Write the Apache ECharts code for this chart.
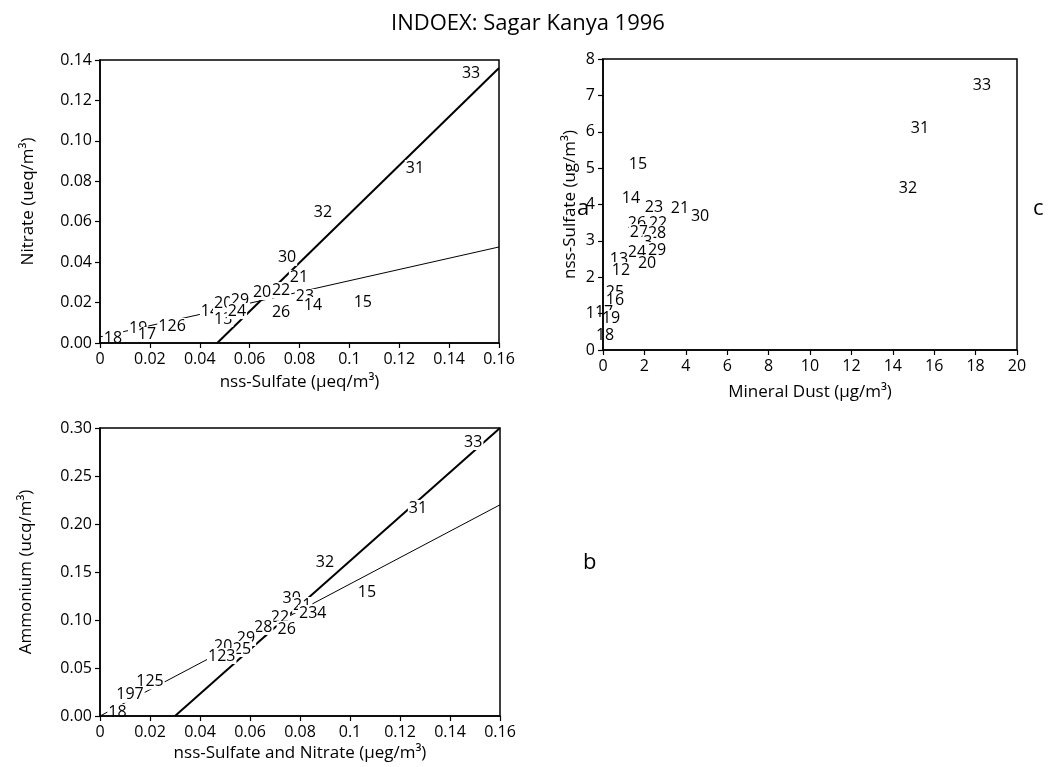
<!DOCTYPE html>
<html>
<head>
<meta charset="utf-8">
<script src="https://cdn.jsdelivr.net/npm/echarts@6/dist/echarts.min.js"></script>
<style>
  html, body { margin: 0; background: #fff; }
  #chart { width: 1056px; height: 767px; }
</style>
</head>
<body>
<div id="chart"></div>
<script>
// panel a: nitrate vs nss-sulfate (sample numbers as markers)
const aNames = ['33', '31', '32', '30', '21', '20', '22', '23', '14', '15', '26',
  '18', '19', '17', '126', '14', '20', '29', '13', '24'];
const aX = [0.1488, 0.1263, 0.0894, 0.0750, 0.0798, 0.0650, 0.0726, 0.0822, 0.0854, 0.1054, 0.0726,
  0.0052, 0.0153, 0.0188, 0.0289, 0.0441, 0.0494, 0.0561, 0.0494, 0.0549];
const aY = [0.1332, 0.0866, 0.0644, 0.0421, 0.0322, 0.0252, 0.0262, 0.0228, 0.0188, 0.0203, 0.0153,
  0.0025, 0.0074, 0.0040, 0.0084, 0.0158, 0.0198, 0.0213, 0.0119, 0.0158];
const aThick = [[0.047, 0], [0.16, 0.136]];
const aThin = [[0, 0.003], [0.16, 0.0475]];

// panel b: ammonium vs nss-sulfate + nitrate
const bNames = ['33', '31', '32', '15', '30', '21', '234', '22', '28', '26', '29', '20', '25', '123',
  '125', '197', '18'];
const bX = [0.1493, 0.1272, 0.0900, 0.1068, 0.0767, 0.0809, 0.0851, 0.0720, 0.0653, 0.0747, 0.0584, 0.0493, 0.0568, 0.0487,
  0.0200, 0.0120, 0.0070];
const bY = [0.2854, 0.2167, 0.1604, 0.1292, 0.1229, 0.1156, 0.1073, 0.1030, 0.0927, 0.0906, 0.0813, 0.0729, 0.0698, 0.0625,
  0.0360, 0.0220, 0.0040];
const bThick = [[0.030, 0], [0.16, 0.30]];
const bThin = [[0, 0], [0.16, 0.22]];

// panel c: nss-sulfate vs mineral dust
const cNames = ['33', '31', '32', '15', '14', '23', '21', '30', '26', '22', '27', '28', '3',
  '24', '29', '20', '13', '12', '25', '16', '17', '19', '18'];
const cX = [18.31, 15.31, 14.73, 1.69, 1.35, 2.46, 3.72, 4.69, 1.64, 2.66, 1.74, 2.61, 2.17,
  1.64, 2.61, 2.13, 0.77, 0.87, 0.58, 0.58, 0.05, 0.39, 0.10];
const cY = [7.26, 6.10, 4.43, 5.09, 4.18, 3.93, 3.90, 3.68, 3.49, 3.49, 3.24, 3.21, 2.97,
  2.69, 2.75, 2.39, 2.50, 2.20, 1.59, 1.35, 1.04, 0.88, 0.41];

const FONT = 'Open Sans';
const pts = (names, xs, ys) => names.map((n, i) => ({ name: n, value: [xs[i], ys[i]] }));

const axisBase = {
  type: 'value',
  z: 10,
  axisLine: { show: true, onZero: false, lineStyle: { color: '#000', width: 1.5 } },
  axisTick: { show: true, inside: false, length: 5, lineStyle: { color: '#000', width: 1.2 } },
  splitLine: { show: false },
  axisLabel: { color: '#000', fontFamily: FONT, fontSize: 16, margin: 8 },
  nameLocation: 'middle',
  nameTextStyle: { color: '#000', fontFamily: FONT, fontSize: 17 }
};
const xa = (o) => Object.assign({}, axisBase, o,
  { axisLabel: Object.assign({}, axisBase.axisLabel, o.axisLabel || {}) });

const labelSeries = (data, xi, yi) => ({
  type: 'scatter', xAxisIndex: xi, yAxisIndex: yi, data,
  symbolSize: 0, itemStyle: { color: '#000', opacity: 1 }, z: 5,
  label: {
    show: true, position: 'inside', formatter: '{b}', color: '#000',
    textBorderWidth: 0, textBorderColor: 'transparent',
    fontFamily: FONT, fontSize: 16, backgroundColor: '#fff', padding: [0, 1]
  }
});
const lineSeries = (data, xi, yi, w) => ({
  type: 'line', xAxisIndex: xi, yAxisIndex: yi, data, showSymbol: false,
  lineStyle: { color: '#000', width: w }, z: 2, silent: true
});

const chart = echarts.init(document.getElementById('chart'));
chart.setOption({
  backgroundColor: '#fff',
  animation: false,
  title: {
    text: 'INDOEX: Sagar Kanya 1996', left: 'center', top: 8,
    textStyle: { fontFamily: FONT, fontWeight: 'normal', fontSize: 22, color: '#000' }
  },
  graphic: [
    { type: 'text', left: 577, top: 198, style: { text: 'a', font: '22px "Open Sans"', fill: '#000' } },
    { type: 'text', left: 1033, top: 198, style: { text: 'c', font: '22px "Open Sans"', fill: '#000' } },
    { type: 'text', left: 583, top: 552, style: { text: 'b', font: '22px "Open Sans"', fill: '#000' } }
  ],
  grid: [
    { left: 100, top: 60, width: 399, height: 283, show: true, z: 10, borderColor: '#000', borderWidth: 1.5 },
    { left: 100, top: 428, width: 400, height: 288, show: true, z: 10, borderColor: '#000', borderWidth: 1.5 },
    { left: 603, top: 59, width: 414, height: 291, show: true, z: 10, borderColor: '#000', borderWidth: 1.5 }
  ],
  xAxis: [
    xa({ gridIndex: 0, min: 0, max: 0.16, interval: 0.02, name: 'nss-Sulfate (μeq/m³)', nameGap: 31,
      axisLabel: { formatter: v => v === 0 ? '0' : String(+v.toFixed(2)) } }),
    xa({ gridIndex: 1, min: 0, max: 0.16, interval: 0.02, name: 'nss-Sulfate and Nitrate (μeg/m³)', nameGap: 29,
      axisLabel: { formatter: v => v === 0 ? '0' : String(+v.toFixed(2)) } }),
    xa({ gridIndex: 2, min: 0, max: 20, interval: 2, name: 'Mineral Dust (μg/m³)', nameGap: 34 })
  ],
  yAxis: [
    xa({ gridIndex: 0, min: 0, max: 0.14, interval: 0.02, name: 'Nitrate (ueq/m³)', nameGap: 63,
      axisLabel: { formatter: v => v.toFixed(2) } }),
    xa({ gridIndex: 1, min: 0, max: 0.30, interval: 0.05, name: 'Ammonium (ucq/m³)', nameGap: 65,
      axisLabel: { formatter: v => v.toFixed(2) } }),
    xa({ gridIndex: 2, min: 0, max: 8, interval: 1, name: 'nss-Sulfate (ug/m³)', nameGap: 24 })
  ],
  series: [
    lineSeries(aThick, 0, 0, 2),
    lineSeries(aThin, 0, 0, 1),
    labelSeries(pts(aNames, aX, aY), 0, 0),
    lineSeries(bThick, 1, 1, 2),
    lineSeries(bThin, 1, 1, 1),
    labelSeries(pts(bNames, bX, bY), 1, 1),
    labelSeries(pts(cNames, cX, cY), 2, 2)
  ]
});
</script>
</body>
</html>
